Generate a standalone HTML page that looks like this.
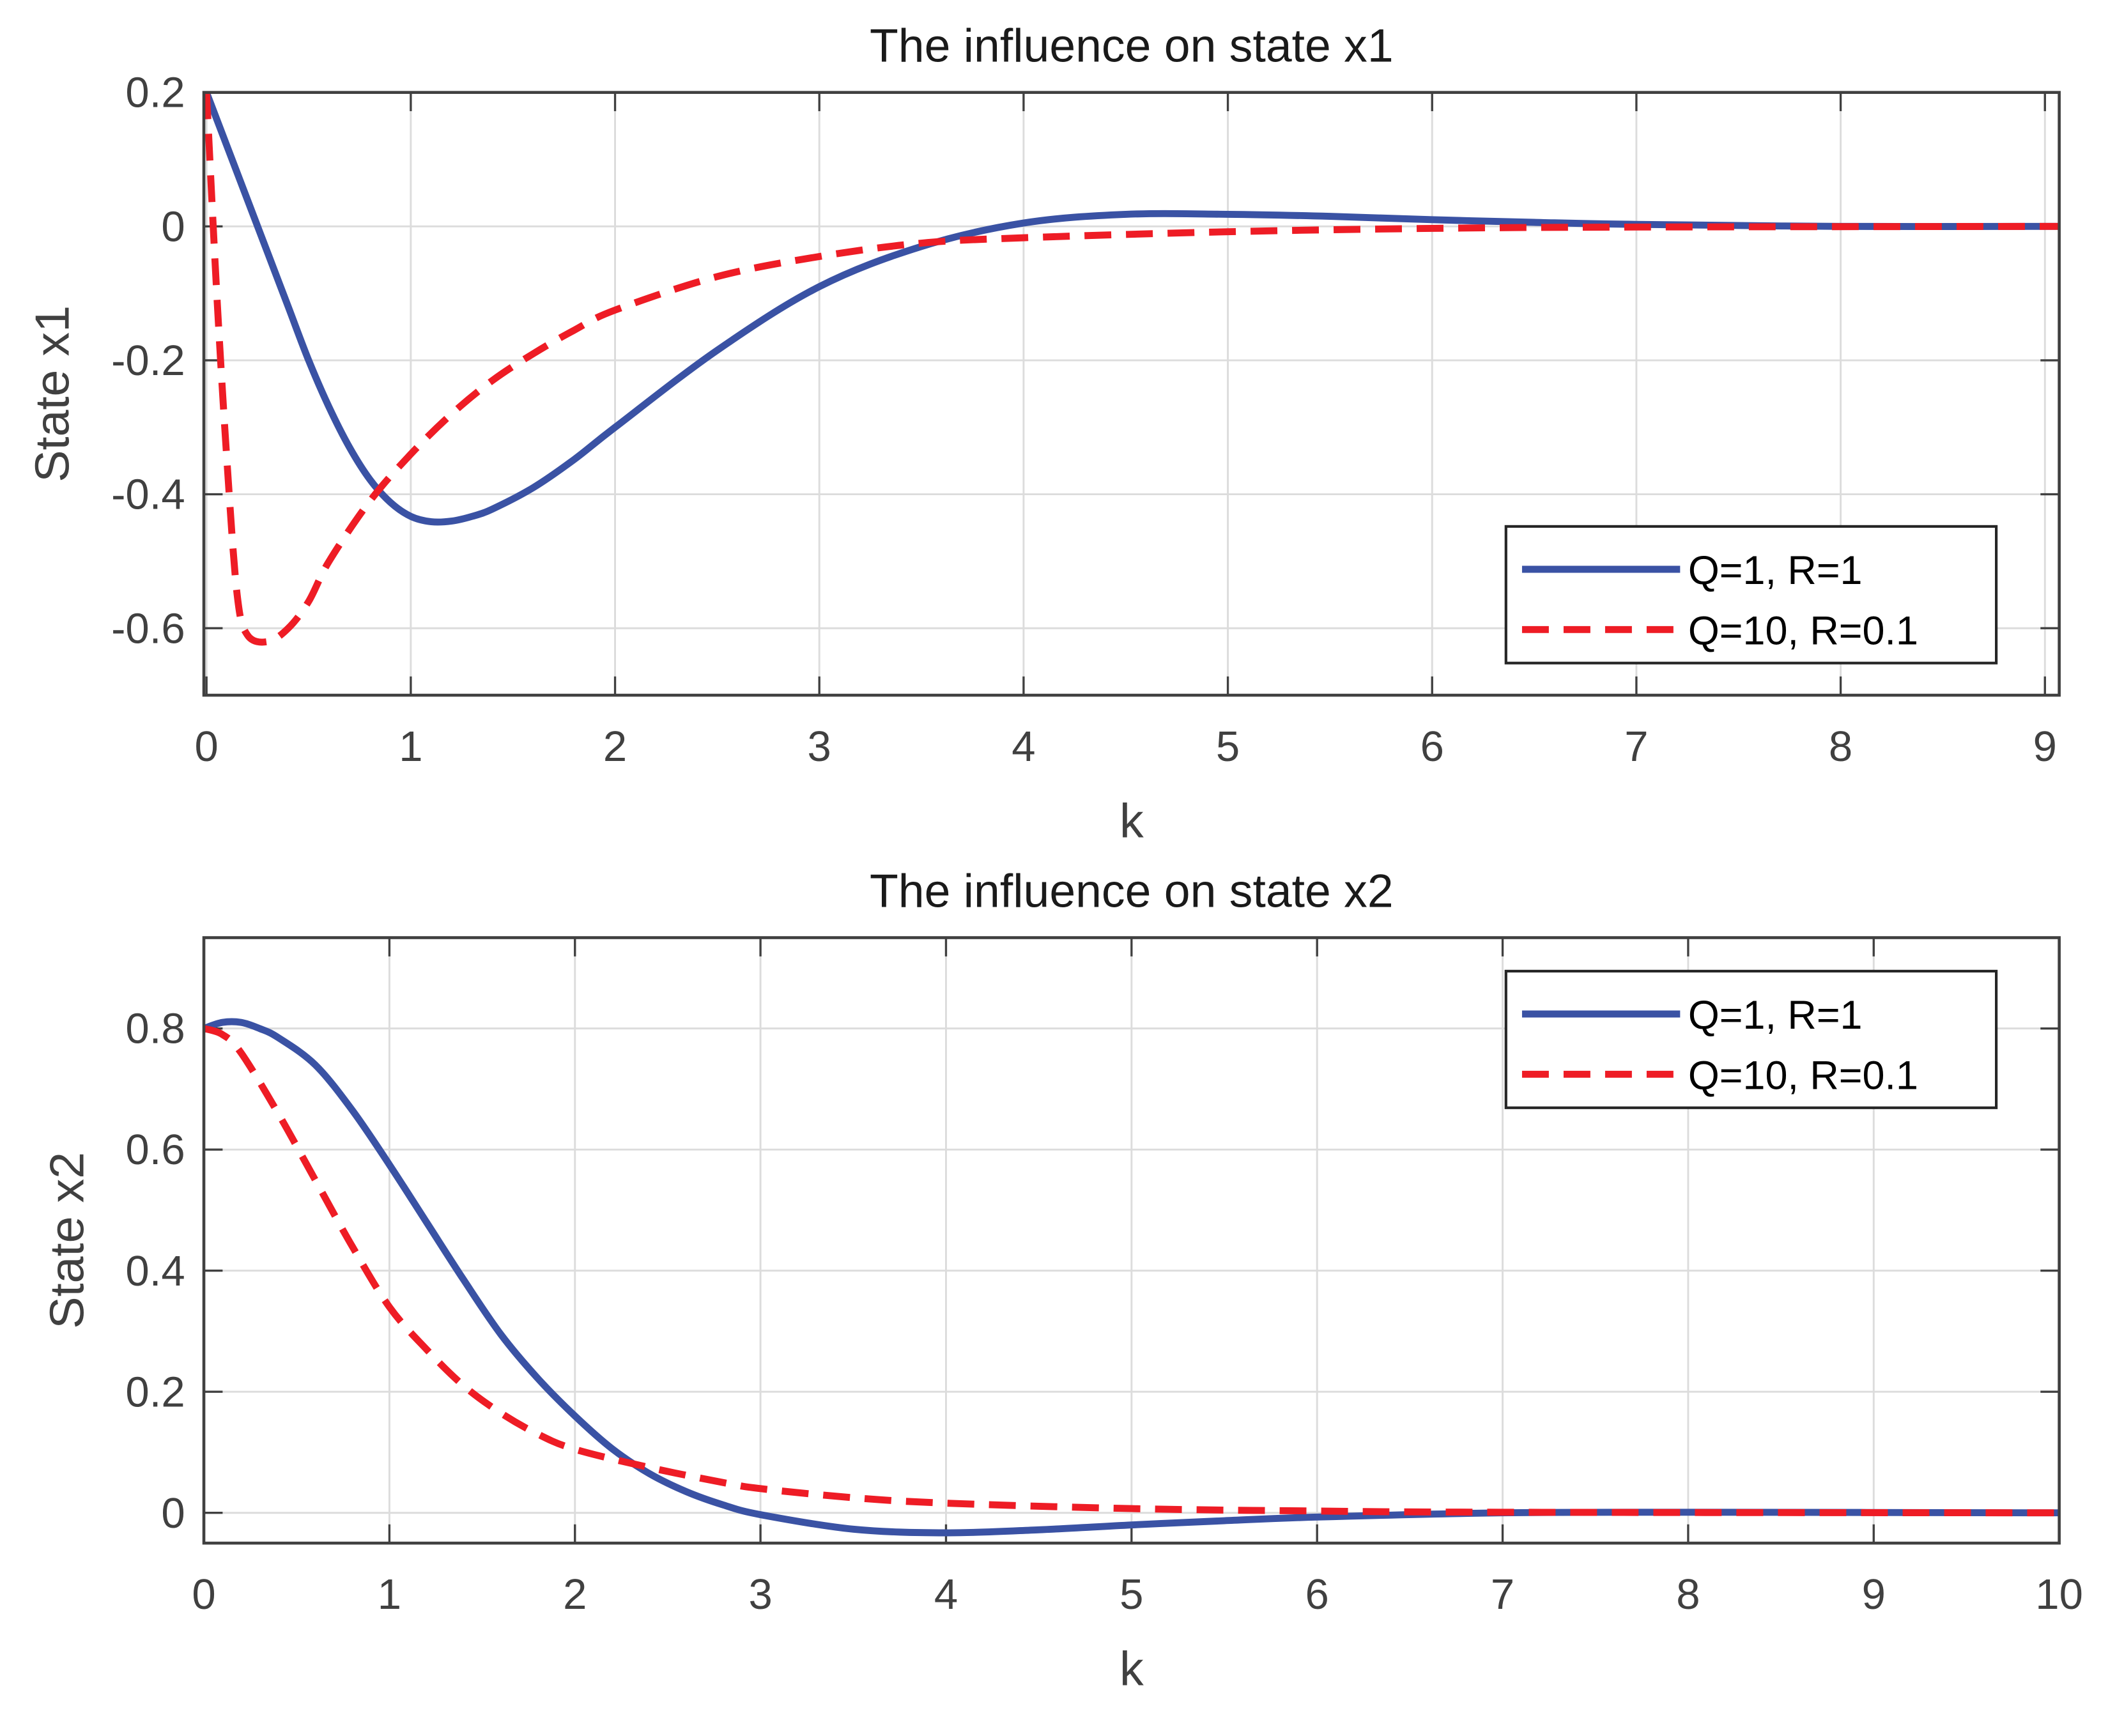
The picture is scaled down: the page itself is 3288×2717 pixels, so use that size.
<!DOCTYPE html>
<html><head><meta charset="utf-8"><style>
html,body{margin:0;padding:0;background:#fff;}
svg{display:block;font-family:"Liberation Sans",Arial,sans-serif;}
</style></head><body>
<svg id="chart" width="3288" height="2717" viewBox="0 0 1568 1296" xmlns="http://www.w3.org/2000/svg"></svg>
<script>
// ---- Data: subplot 1 (state x1) ----
const x1BlueK = [0,0.1,0.2,0.3,0.4,0.5,0.6,0.7,0.8,0.9,1.0,1.1,1.2,1.3,1.4,1.6,1.8,2.0,2.5,3.0,3.5,4.0,4.5,5.0,5.5,6.0,6.5,7.0,8.0,9.08];
const x1BlueV = [0.2,0.12,0.04,-0.04,-0.12,-0.2,-0.27,-0.33,-0.378,-0.412,-0.433,-0.441,-0.44,-0.433,-0.422,-0.39,-0.348,-0.3,-0.185,-0.09,-0.03,0.005,0.018,0.018,0.015,0.01,0.006,0.003,0,0];
const x1RedK = [0,0.05,0.1,0.15,0.2,0.3,0.4,0.5,0.6,0.8,1.0,1.2,1.4,1.6,1.8,2.0,2.5,3.0,3.5,4.0,5.0,6.0,7.0,9.08];
const x1RedV = [0.2,-0.1,-0.35,-0.55,-0.61,-0.62,-0.6,-0.56,-0.5,-0.41,-0.34,-0.28,-0.23,-0.19,-0.155,-0.125,-0.075,-0.045,-0.025,-0.017,-0.008,-0.003,-0.001,0];
const x1XTicks = [0,1,2,3,4,5,6,7,8,9];
const x1YTicks = [0.2,0,-0.2,-0.4,-0.6];
const x1YTickLabels = ["0.2","0","-0.2","-0.4","-0.6"];
// ---- Data: subplot 2 (state x2) ----
const x2BlueK = [0,0.1,0.2,0.3,0.4,0.6,0.8,1.0,1.2,1.4,1.6,1.8,2.0,2.2,2.4,2.6,2.8,3.0,3.5,4.0,4.5,5.0,5.5,6.0,7.0,8.0,10];
const x2BlueV = [0.8,0.81,0.81,0.8,0.785,0.74,0.665,0.575,0.48,0.385,0.295,0.222,0.16,0.106,0.065,0.035,0.013,-0.003,-0.027,-0.033,-0.028,-0.02,-0.013,-0.007,0,0.001,0];
const x2RedK = [0,0.1,0.2,0.4,0.6,0.8,1.0,1.2,1.4,1.6,1.8,2.0,2.4,2.8,3.0,3.5,4.0,5.0,6.0,7.0,10];
const x2RedV = [0.8,0.79,0.76,0.66,0.55,0.44,0.34,0.27,0.21,0.165,0.13,0.105,0.075,0.05,0.04,0.025,0.016,0.007,0.003,0.001,0];
const x2XTicks = [0,1,2,3,4,5,6,7,8,9,10];
const x2YTicks = [0.8,0.6,0.4,0.2,0];
const x2YTickLabels = ["0.8","0.6","0.4","0.2","0"];
const legendLabels = ["Q=1, R=1","Q=10, R=0.1"];

const NS="http://www.w3.org/2000/svg";
const svg=document.getElementById('chart');
function mk(tag,attrs,parent){const e=document.createElementNS(NS,tag);for(const k in attrs)e.setAttribute(k,attrs[k]);(parent||svg).appendChild(e);return e;}
function smoothPath(pts){
  let d='M'+pts[0][0].toFixed(2)+','+pts[0][1].toFixed(2);
  for(let i=0;i<pts.length-1;i++){
    const p0=pts[i-1]||pts[i],p1=pts[i],p2=pts[i+1],p3=pts[i+2]||p2;
    const c1=[p1[0]+(p2[0]-p0[0])/6,p1[1]+(p2[1]-p0[1])/6];
    const c2=[p2[0]-(p3[0]-p1[0])/6,p2[1]-(p3[1]-p1[1])/6];
    d+='C'+c1[0].toFixed(2)+','+c1[1].toFixed(2)+' '+c2[0].toFixed(2)+','+c2[1].toFixed(2)+' '+p2[0].toFixed(2)+','+p2[1].toFixed(2);
  }
  return d;
}

function panel(cfg){
  const g=mk('g',{});
  
  
  const {L,R,T,B,xmin,xmax,ymin,ymax}=cfg;
  const sx=v=>L+(v-xmin)/(xmax-xmin)*(R-L);
  const sy=v=>B-(v-ymin)/(ymax-ymin)*(B-T);
  mk('rect',{x:L,y:T,width:R-L,height:B-T,fill:'#fff'},g);
  cfg.xticks.forEach(t=>{
    const gl=mk('line',{x1:sx(t),x2:sx(t),y1:T,y2:B,stroke:'#dcdcdc','stroke-width':1.4},g);
    
    
    mk('line',{x1:sx(t),x2:sx(t),y1:B,y2:B-14,stroke:'#404040','stroke-width':1.6},g);
    mk('line',{x1:sx(t),x2:sx(t),y1:T,y2:T+14,stroke:'#404040','stroke-width':1.6},g);
    const tx=mk('text',{x:sx(t),y:B+49,'text-anchor':'middle','font-size':32,fill:'#404040'},g);
    tx.textContent=String(t);
    
    
  });
  cfg.yticks.forEach((t,i)=>{
    const gl=mk('line',{x1:L,x2:R,y1:sy(t),y2:sy(t),stroke:'#dcdcdc','stroke-width':1.4},g);
    
    
    mk('line',{x1:L,x2:L+14,y1:sy(t),y2:sy(t),stroke:'#404040','stroke-width':1.6},g);
    mk('line',{x1:R,x2:R-14,y1:sy(t),y2:sy(t),stroke:'#404040','stroke-width':1.6},g);
    const tx=mk('text',{x:L-14,y:sy(t)+11,'text-anchor':'end','font-size':32,fill:'#404040'},g);
    tx.textContent=cfg.ylabels[i];
    
    
  });
  const clipId='clip'+cfg.name;
  const cp=mk('clipPath',{id:clipId},g);mk('rect',{x:L,y:T-4,width:R-L,height:B-T+4},cp);
  const series=[[cfg.bk,cfg.bv,'#3a52a4',null,'blue'],[cfg.rk,cfg.rv,'#ee1c25','20 11','red']];
  series.forEach(s=>{
    const pts=s[0].map((k,i)=>[sx(k),sy(s[1][i])]);
    const p=mk('path',{d:smoothPath(pts),fill:'none',stroke:s[2],'stroke-width':5.2,'stroke-linejoin':'round','clip-path':'url(#'+clipId+')'},g);
    if(s[3])p.setAttribute('stroke-dasharray',s[3]);
    
    
  });
  mk('rect',{x:L,y:T,width:R-L,height:B-T,fill:'none',stroke:'#404040','stroke-width':2.2},g);
  const ti=mk('text',{x:(L+R)/2+0,y:T-23,'text-anchor':'middle','font-size':35,fill:'#1a1a1a'},g);
  ti.textContent=cfg.title;
  
  
  const xl=mk('text',{x:(L+R)/2,y:B+106,'text-anchor':'middle','font-size':36,fill:'#404040'},g);
  xl.textContent='k';
  
  
  const yl=mk('text',{x:0,y:0,'text-anchor':'middle','font-size':36,fill:'#404040',transform:'translate('+cfg.ylx+','+(T+B)/2+') rotate(-90)'},g);
  yl.textContent=cfg.ylabel;
  
  
  // legend
  const lg=mk('g',{},g);
  
  
  const lx=1124,ly=cfg.legY,lw=366,lh=102;
  mk('rect',{x:lx,y:ly,width:lw,height:lh,fill:'#fff',stroke:'#262626','stroke-width':2},lg);
  [[0,'#3a52a4',null],[1,'#ee1c25','20 11']].forEach(([i,c,da])=>{
    const e=mk('g',{},lg);
    
    
    const yy=ly+32+i*45;
    const ln=mk('line',{x1:lx+12,x2:lx+130,y1:yy,y2:yy,stroke:c,'stroke-width':5.2},e);
    if(da)ln.setAttribute('stroke-dasharray',da);
    const t=mk('text',{x:lx+136,y:yy+11,'font-size':30,fill:'#000'},e);
    t.textContent=legendLabels[i];
  });
}
panel({name:'panel-x1',L:152,R:1537,T:69,B:519,xmin:-0.013,xmax:9.07,ymin:-0.7,ymax:0.2,
  xticks:x1XTicks,yticks:x1YTicks,ylabels:x1YTickLabels,bk:x1BlueK,bv:x1BlueV,rk:x1RedK,rv:x1RedV,
  title:'The influence on state x1',ylabel:'State x1',ylx:51,legY:393});
panel({name:'panel-x2',L:152,R:1537,T:700,B:1152,xmin:0,xmax:10,ymin:-0.05,ymax:0.95,
  xticks:x2XTicks,yticks:x2YTicks,ylabels:x2YTickLabels,bk:x2BlueK,bv:x2BlueV,rk:x2RedK,rv:x2RedV,
  title:'The influence on state x2',ylabel:'State x2',ylx:62,legY:725});
</script>
</body></html>
